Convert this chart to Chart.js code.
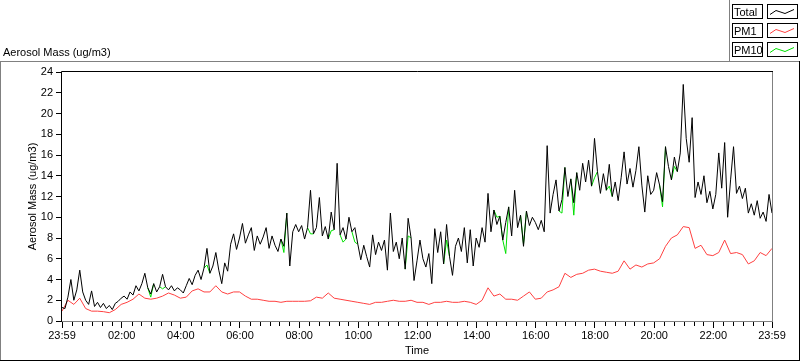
<!DOCTYPE html>
<html>
<head>
<meta charset="utf-8">
<script src="https://cdn.jsdelivr.net/npm/chart.js@4.4.0/dist/chart.umd.min.js"></script>
<style>
  html, body { margin: 0; padding: 0; background: #fff; }
</style>
</head>
<body>
<canvas id="aerosol" width="800" height="361"></canvas>
<script>
// minutes after 23:59 between samples
const totalStep = 6;
const pm1Step = 12;

// Total aerosol mass (ug/m3), one value every 6 minutes
const total = [
  1.3, 1.2, 2.3, 4.0, 2.0, 3.0, 4.9, 2.8, 2.0, 1.6,
  2.9, 1.4, 1.8, 1.3, 1.7, 1.2, 1.5, 1.1, 1.7, 1.9,
  2.2, 2.4, 2.1, 2.8, 2.5, 3.4, 2.9, 3.6, 4.6, 3.2,
  2.6, 3.6, 2.8, 3.3, 4.5, 3.3, 3.0, 3.4, 2.9, 3.2,
  3.0, 2.7, 3.4, 4.1, 3.5, 4.4, 4.9, 4.0, 5.1, 7.0,
  4.6, 5.3, 6.6, 4.9, 3.6, 5.6, 4.8, 7.4, 8.4, 6.9,
  8.0, 9.4, 7.5, 8.3, 9.0, 6.8, 8.2, 7.4, 8.1, 9.0,
  7.0, 8.2, 7.3, 6.7, 7.9, 7.2, 10.4, 5.3, 8.6, 9.3,
  8.6, 9.2, 7.9, 9.0, 12.6, 8.4, 9.0, 11.9, 8.2, 9.1,
  7.9, 10.5, 8.8, 15.2, 8.3, 9.0, 7.9, 10.0, 8.6, 9.0,
  7.4, 5.9, 7.3, 6.2, 5.2, 8.3, 6.4, 7.6, 6.8, 7.8,
  4.9, 10.4, 6.7, 7.6, 6.0, 8.0, 5.0, 9.9, 8.0, 3.9,
  5.8, 7.8, 6.0, 5.2, 6.5, 3.6, 8.9, 6.6, 8.6, 5.5,
  9.3, 6.2, 4.4, 7.2, 8.0, 6.7, 9.0, 5.6, 8.8, 5.3,
  8.0, 7.1, 9.0, 7.6, 12.3, 8.6, 10.7, 9.3, 10.1, 7.8,
  9.5, 11.0, 8.2, 12.6, 9.0, 10.2, 7.2, 10.6, 9.2, 10.0,
  9.5, 8.8, 9.7, 8.6, 16.9, 10.4, 12.2, 13.6, 10.6, 11.7,
  14.8, 12.0, 13.7, 11.4, 14.3, 12.6, 15.2, 13.4, 15.5, 13.0,
  17.6, 14.4, 12.3, 14.2, 12.6, 15.1, 12.0, 13.4, 11.6, 13.8,
  16.3, 13.2, 14.7, 12.9, 14.5, 16.8, 13.1, 10.5, 14.0, 12.2,
  12.6, 14.3, 13.1, 11.5, 16.8, 14.9, 13.6, 15.8, 14.4, 16.2,
  22.8, 17.6, 15.3, 19.6, 11.9, 13.4, 12.2, 14.0, 11.4, 12.5,
  10.8, 12.2, 16.2, 12.8, 17.2, 10.0, 13.6, 16.8, 12.3, 13.0,
  11.8, 12.8, 10.4, 11.3, 10.2, 11.6, 9.9, 10.5, 9.6, 12.2, 10.4
];

// PM1 (ug/m3), one value every 12 minutes
const pm1 = [
  0.95, 2.0, 1.6, 2.2, 1.2, 0.95, 0.95, 0.9, 0.8, 1.1,
  1.6, 1.8, 2.1, 2.6, 2.2, 2.1, 2.2, 2.4, 2.7, 2.5,
  2.2, 2.3, 2.9, 3.1, 2.8, 2.8, 3.4, 2.8, 2.6, 2.8,
  2.8, 2.4, 2.1, 2.1, 2.0, 1.9, 1.9, 1.8, 1.9, 1.9,
  1.9, 1.9, 1.95, 2.3, 2.2, 2.7, 2.2, 2.1, 2.0, 1.9,
  1.8, 1.7, 1.6, 1.8, 1.8, 1.9, 2.0, 1.9, 1.9, 2.0,
  1.8, 1.8, 1.6, 1.8, 1.8, 1.9, 1.8, 1.8, 1.9, 1.8,
  1.6, 2.0, 3.2, 2.4, 2.6, 2.1, 2.1, 2.0, 2.4, 2.8,
  2.1, 2.2, 2.8, 3.0, 3.3, 4.6, 4.2, 4.5, 4.6, 4.9,
  5.0, 4.8, 4.7, 4.6, 4.8, 5.8, 5.0, 5.4, 5.2, 5.5,
  5.6, 6.0, 7.2, 8.0, 8.3, 9.1, 9.0, 7.0, 7.3, 6.4,
  6.3, 6.6, 7.8, 6.5, 6.6, 6.4, 5.5, 5.8, 6.6, 6.3, 7.0
];

// PM10 is hidden under Total except at these samples [index, value]
const pm10Spots = [
  [30, 2.3], [34, 3.1], [49, 5.4], [75, 6.6], [84, 8.4], [91, 8.7],
  [95, 7.6], [99, 7.6], [117, 8.2], [130, 7.8], [147, 10.0], [150, 6.5],
  [156, 7.4], [169, 10.4], [173, 10.2], [180, 13.8], [185, 13.0],
  [203, 11.0], [207, 14.9]
];

const timeTicks = [0, 121, 241, 361, 481, 601, 721, 841, 961, 1081, 1201, 1321, 1440];
const timeLabels = ["23:59", "02:00", "04:00", "06:00", "08:00", "10:00", "12:00",
  "14:00", "16:00", "18:00", "20:00", "22:00", "23:59"];

const legendItems = ["Total", "PM1", "PM10"];
const seriesColors = ["#000000", "#ff4040", "#00e000"];

// PM10 only drawn where it leaves the Total trace (short pieces joined to neighbours)
const pm10 = total.map(() => null);
pm10Spots.forEach(([i, v]) => {
  if (pm10[i - 1] === null) pm10[i - 1] = total[i - 1];
  pm10[i] = v;
  pm10[i + 1] = total[i + 1];
});

const toPoints = (arr, step) => arr.map((v, i) => ({ x: i * step, y: v }));

Chart.defaults.font.family = "'Liberation Sans', Arial, sans-serif";
Chart.defaults.font.size = 11;
Chart.defaults.color = "#000";

function seg(ctx, x1, y1, x2, y2, color) {
  ctx.strokeStyle = color;
  ctx.beginPath();
  ctx.moveTo(x1, y1);
  ctx.lineTo(x2, y2);
  ctx.stroke();
}

// frame, minor ticks, header and legend in the LabVIEW look
const panelPlugin = {
  id: "panel",
  afterDraw(chart) {
    const { ctx, chartArea: a } = chart;
    const xs = chart.scales.x;
    ctx.save();
    ctx.lineWidth = 1;

    // outer panel
    seg(ctx, 0, 61.5, 800, 61.5, "#808080");
    seg(ctx, 0.5, 61, 0.5, 361, "#808080");
    seg(ctx, 799.5, 61, 799.5, 361, "#000");
    seg(ctx, 0, 360.5, 800, 360.5, "#000");
    seg(ctx, 729.5, 0, 729.5, 61, "#808080");

    // plot frame
    seg(ctx, a.left - 0.5, a.top - 0.5, a.right + 1, a.top - 0.5, "#000");
    seg(ctx, a.left - 0.5, a.top - 0.5, a.left - 0.5, a.bottom + 1, "#000");
    seg(ctx, a.right + 0.5, a.top, a.right + 0.5, a.bottom + 1, "#808080");
    seg(ctx, a.left, a.bottom + 0.5, a.right + 1, a.bottom + 0.5, "#808080");

    // minor x ticks every 20 minutes
    for (let m = 21; m < 1440; m += 20) {
      if ((m - 1) % 120 === 0) continue;
      const px = Math.round(xs.getPixelForValue(m)) + 0.5;
      seg(ctx, px, a.bottom + 1, px, a.bottom + 5, "#000");
    }

    // header
    ctx.fillStyle = "#000";
    ctx.font = "11px 'Liberation Sans', Arial, sans-serif";
    ctx.textAlign = "left";
    ctx.textBaseline = "alphabetic";
    ctx.fillText("Aerosol Mass (ug/m3)", 3, 56);

    // legend
    ctx.font = "11px 'Liberation Sans', Arial, sans-serif";
    legendItems.forEach((name, r) => {
      const y0 = 4.5 + r * 19;
      ctx.strokeStyle = "#000";
      ctx.strokeRect(732.5, y0, 30, 14);
      ctx.strokeRect(767.5, y0, 30, 14);
      ctx.fillStyle = "#000";
      ctx.fillText(name, 734, y0 + 11);
      ctx.strokeStyle = seriesColors[r];
      ctx.beginPath();
      ctx.moveTo(770, y0 + 10);
      ctx.lineTo(776, y0 + 6);
      ctx.lineTo(785, y0 + 9);
      ctx.lineTo(794, y0 + 5);
      ctx.stroke();
    });
    ctx.restore();
  },
};

new Chart(document.getElementById("aerosol"), {
  type: "line",
  data: {
    datasets: [
      {
        label: "Total",
        data: toPoints(total, totalStep),
        borderColor: seriesColors[0],
        borderWidth: 1,
        pointRadius: 0,
        order: 0,
      },
      {
        label: "PM1",
        data: toPoints(pm1, pm1Step),
        borderColor: seriesColors[1],
        borderWidth: 1,
        pointRadius: 0,
        order: 1,
      },
      {
        label: "PM10",
        data: toPoints(pm10, totalStep),
        borderColor: seriesColors[2],
        borderWidth: 1,
        pointRadius: 0,
        spanGaps: false,
        order: 2,
      },
    ],
  },
  options: {
    responsive: false,
    animation: false,
    devicePixelRatio: 1,
    layout: { padding: { left: 0, top: 72, right: 28, bottom: 0 } },
    plugins: {
      legend: { display: false },
      tooltip: { enabled: false },
    },
    scales: {
      x: {
        type: "linear",
        min: 0,
        max: 1440,
        afterBuildTicks: (s) => {
          s.ticks = timeTicks.map((v) => ({ value: v }));
        },
        afterFit: (s) => {
          s.height = 40;
        },
        ticks: {
          autoSkip: false,
          maxRotation: 0,
          padding: 1,
          callback: (v) => timeLabels[timeTicks.indexOf(v)],
        },
        grid: {
          drawOnChartArea: false,
          tickLength: 7,
          color: "#000",
          tickColor: "#000",
        },
        border: { display: false },
        title: {
          display: true,
          text: "Time",
          padding: { top: 0, bottom: 3 },
        },
      },
      y: {
        min: 0,
        max: 24,
        afterFit: (s) => {
          s.width = 62;
        },
        ticks: {
          stepSize: 2,
          padding: 3,
        },
        grid: {
          drawOnChartArea: false,
          tickLength: 6,
          color: "#000",
          tickColor: "#000",
        },
        border: { display: false },
        title: {
          display: true,
          text: "Aerosol Mass (ug/m3)",
          padding: { top: 26, bottom: 0 },
        },
      },
    },
  },
  plugins: [panelPlugin],
});
</script>
</body>
</html>
